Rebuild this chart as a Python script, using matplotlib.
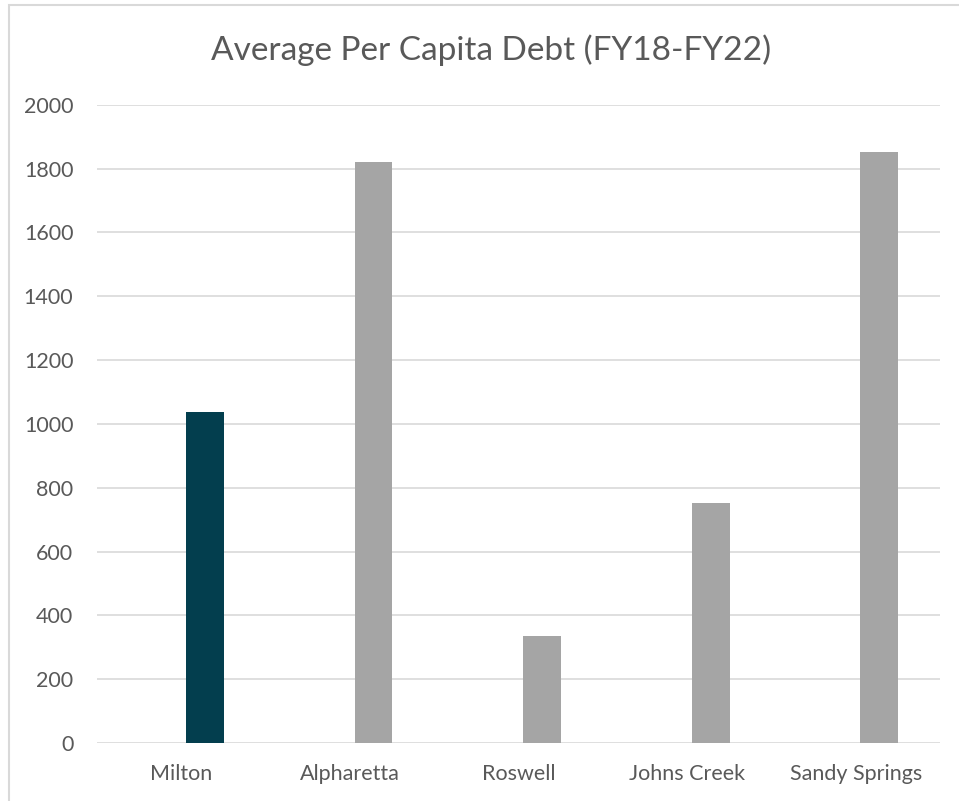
import numpy as np
import matplotlib
matplotlib.use('Agg')
import matplotlib.pyplot as plt
from matplotlib.patches import Rectangle

cities = ['Milton', 'Alpharetta', 'Roswell', 'Johns Creek', 'Sandy Springs']
debt = [1037, 1822, 334, 753, 1851]
colors = ['#033e4e', '#a5a5a5', '#a5a5a5', '#a5a5a5', '#a5a5a5']
yticks = [0, 200, 400, 600, 800, 1000, 1200, 1400, 1600, 1800, 2000]

plt.rcParams['font.family'] = ['Lato', 'DejaVu Sans']
txt = '#595959'

fig = plt.figure(figsize=(9.59, 8.01), dpi=100)
ax = fig.add_axes([97/959, 1-743/801, (940-97)/959, (743-104.7)/801])

x = np.arange(len(cities))
ax.bar(x + 0.14, debt, width=0.225, color=colors, zorder=3)

ax.set_xlim(-0.5, 4.5)
ax.set_ylim(0, 2000)
ax.set_yticks(yticks)
ax.set_xticks(x)
ax.set_xticklabels(cities)
ax.grid(axis='y', color='#d9d9d9', linewidth=1.2, zorder=0)
for s in ax.spines.values():
    s.set_visible(False)
ax.tick_params(axis='both', length=0, colors=txt, labelsize=15.5)
ax.tick_params(axis='y', pad=17)
ax.tick_params(axis='x', pad=15)

fig.text(491/959, 1-50/801, 'Average Per Capita Debt (FY18-FY22)', ha='center', va='center',
         fontsize=24, color=txt)

# chart area border
fig.patches.append(Rectangle((9/959, -0.1), 1.2, 1-5/801+0.1, transform=fig.transFigure,
                             fill=False, edgecolor='#d9d9d9', linewidth=1.5))

fig.savefig('out.png', dpi=100)
